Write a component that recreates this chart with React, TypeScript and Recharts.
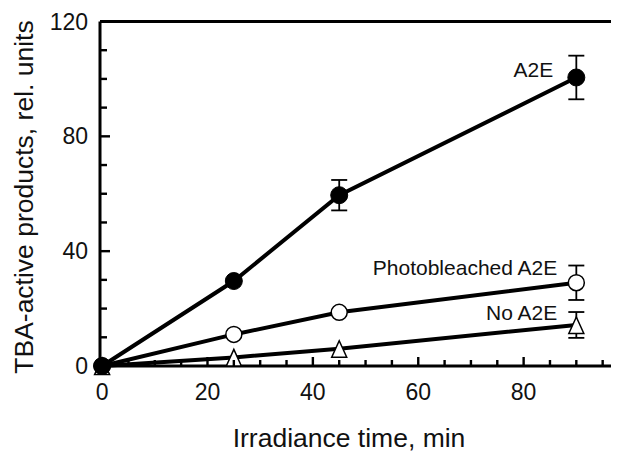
import React from "react";
import { LineChart, Line, XAxis, YAxis, ErrorBar, ReferenceLine, LabelList, Label } from "recharts";

const times = [0, 25, 45, 90];
const a2e = [0, 29.6, 59.5, 100.5];
const a2eErr: (number | null)[] = [null, null, 5.3, 7.6];
const bleached = [0, 11, 18.7, 29];
const bleachedErr: (number | null)[] = [null, null, null, 6];
const noA2e = [0, 3, 6, 14.3];
const noA2eErr: (number | null)[] = [null, null, null, 4.5];

const xMajorTicks = [0, 20, 40, 60, 80];
const xAllTicks = [0, 5, 10, 15, 20, 25, 30, 35, 40, 45, 50, 55, 60, 65, 70, 75, 80, 85, 90, 95];
const yMajorTicks = [0, 40, 80, 120];
const yAllTicks = [0, 10, 20, 30, 40, 50, 60, 70, 80, 90, 100, 110, 120];

const seriesLabels = { a2e: "A2E", bleached: "Photobleached A2E", noA2e: "No A2E" };
const xTitle = "Irradiance time, min";
const yTitle = "TBA-active products, rel. units";

const X_DOMAIN: [number, number] = [-0.4, 98.1];
const Y_DOMAIN: [number, number] = [0, 120];

const data = times.map((t, i) => ({
  t,
  a2e: a2e[i],
  a2eErr: a2eErr[i],
  bleached: bleached[i],
  bleachedErr: bleachedErr[i],
  noA2e: noA2e[i],
  noA2eErr: noA2eErr[i],
}));

const FONT = "'Liberation Sans', Arial, sans-serif";
const TXT = "#111";
const X_MAJOR_LEN = 9;
const X_MINOR_LEN = 6;
const Y_MAJOR_LEN = 10;
const Y_MINOR_LEN = 7;
const TICK_W = 2.4;

const XTick = (props: any) => {
  const { x, y, payload } = props;
  const v = payload.value;
  const major = xMajorTicks.includes(v);
  const len = major ? X_MAJOR_LEN : X_MINOR_LEN;
  return (
    <g>
      <rect x={x - TICK_W / 2} y={y - len} width={TICK_W} height={len} fill="#000" />
      {major && (
        <text x={x} y={y + 34} textAnchor="middle" fontSize={23} fontFamily={FONT} fill={TXT}>
          {v}
        </text>
      )}
    </g>
  );
};

const YTick = (props: any) => {
  const { x, y, payload } = props;
  const v = payload.value;
  const major = yMajorTicks.includes(v);
  const len = major ? Y_MAJOR_LEN : Y_MINOR_LEN;
  return (
    <g>
      <rect x={x} y={y - TICK_W / 2} width={len} height={TICK_W} fill="#000" />
      {major && (
        <text x={x - 12} y={y + 8} textAnchor="end" fontSize={23} fontFamily={FONT} fill={TXT}>
          {v}
        </text>
      )}
    </g>
  );
};

const FilledDot = (props: any) => {
  const { cx, cy } = props;
  if (cx == null || cy == null) return null;
  return <circle cx={cx} cy={cy} r={8.5} fill="#000" stroke="#000" strokeWidth={1} />;
};

const OpenDot = (props: any) => {
  const { cx, cy } = props;
  if (cx == null || cy == null) return null;
  return <circle cx={cx} cy={cy} r={8} fill="#fff" stroke="#000" strokeWidth={1.5} />;
};

const TriDot = (props: any) => {
  const { cx, cy } = props;
  if (cx == null || cy == null) return null;
  const d = `M${cx},${cy - 8} L${cx + 7.5},${cy + 8.5} L${cx - 7.5},${cy + 8.5} Z`;
  return <path d={d} fill="#fff" stroke="#000" strokeWidth={1.5} />;
};

const makeLabel = (text: string, dx: number, dy: number, lastIndex: number) => (p: any) => {
  const x = p.x ?? p.viewBox?.x;
  const y = p.y ?? p.viewBox?.y;
  if (p.index !== lastIndex || x == null || y == null) return null;
  return (
    <text x={x + dx} y={y + dy} textAnchor="end" fontSize={21} fontFamily={FONT} fill={TXT}>
      {text}
    </text>
  );
};

const last = times.length - 1;

export default function App() {
  return (
    <LineChart width={611} height={445} data={data} margin={{ top: 13.5, right: 0, left: 0, bottom: 0 }}>
      <XAxis
        dataKey="t"
        type="number"
        domain={X_DOMAIN}
        ticks={xAllTicks}
        height={87}
        tickSize={0}
        tickMargin={0}
        tick={<XTick />}
        tickLine={false}
        axisLine={{ stroke: "#000", strokeWidth: 3 }}
        interval={0}
      >
        <Label
          content={() => (
            <text x={341} y={439} textAnchor="middle" fontSize={26.5} fontFamily={FONT} fill={TXT}>
              {xTitle}
            </text>
          )}
        />
      </XAxis>
      <YAxis
        type="number"
        domain={Y_DOMAIN}
        ticks={yAllTicks}
        width={92}
        tickSize={0}
        tickMargin={0}
        tick={<YTick />}
        tickLine={false}
        axisLine={{ stroke: "#000", strokeWidth: 3 }}
        interval={0}
      >
        <Label
          content={() => (
            <text
              x={25}
              y={189}
              transform="rotate(-90 25 189)"
              textAnchor="middle"
              fontSize={26.5}
              fontFamily={FONT}
              fill={TXT}
            >
              {yTitle}
            </text>
          )}
        />
      </YAxis>
      <ReferenceLine y={120} stroke="#000" strokeWidth={3} ifOverflow="visible" />
      <Line
        type="linear"
        dataKey="noA2e"
        stroke="#000"
        strokeWidth={4}
        dot={<TriDot />}
        activeDot={false}
        isAnimationActive={false}
      >
        <ErrorBar dataKey="noA2eErr" width={8} stroke="#000" strokeWidth={1.8} direction="y" />
        <LabelList dataKey="noA2e" content={makeLabel(seriesLabels.noA2e, -19, -5, last)} />
      </Line>
      <Line
        type="linear"
        dataKey="bleached"
        stroke="#000"
        strokeWidth={4}
        dot={<OpenDot />}
        activeDot={false}
        isAnimationActive={false}
      >
        <ErrorBar dataKey="bleachedErr" width={8} stroke="#000" strokeWidth={1.8} direction="y" />
        <LabelList dataKey="bleached" content={makeLabel(seriesLabels.bleached, -19, -8, last)} />
      </Line>
      <Line
        type="linear"
        dataKey="a2e"
        stroke="#000"
        strokeWidth={4}
        dot={<FilledDot />}
        activeDot={false}
        isAnimationActive={false}
      >
        <ErrorBar dataKey="a2eErr" width={8} stroke="#000" strokeWidth={1.8} direction="y" />
        <LabelList dataKey="a2e" content={makeLabel(seriesLabels.a2e, -23, 0, last)} />
      </Line>
    </LineChart>
  );
}
